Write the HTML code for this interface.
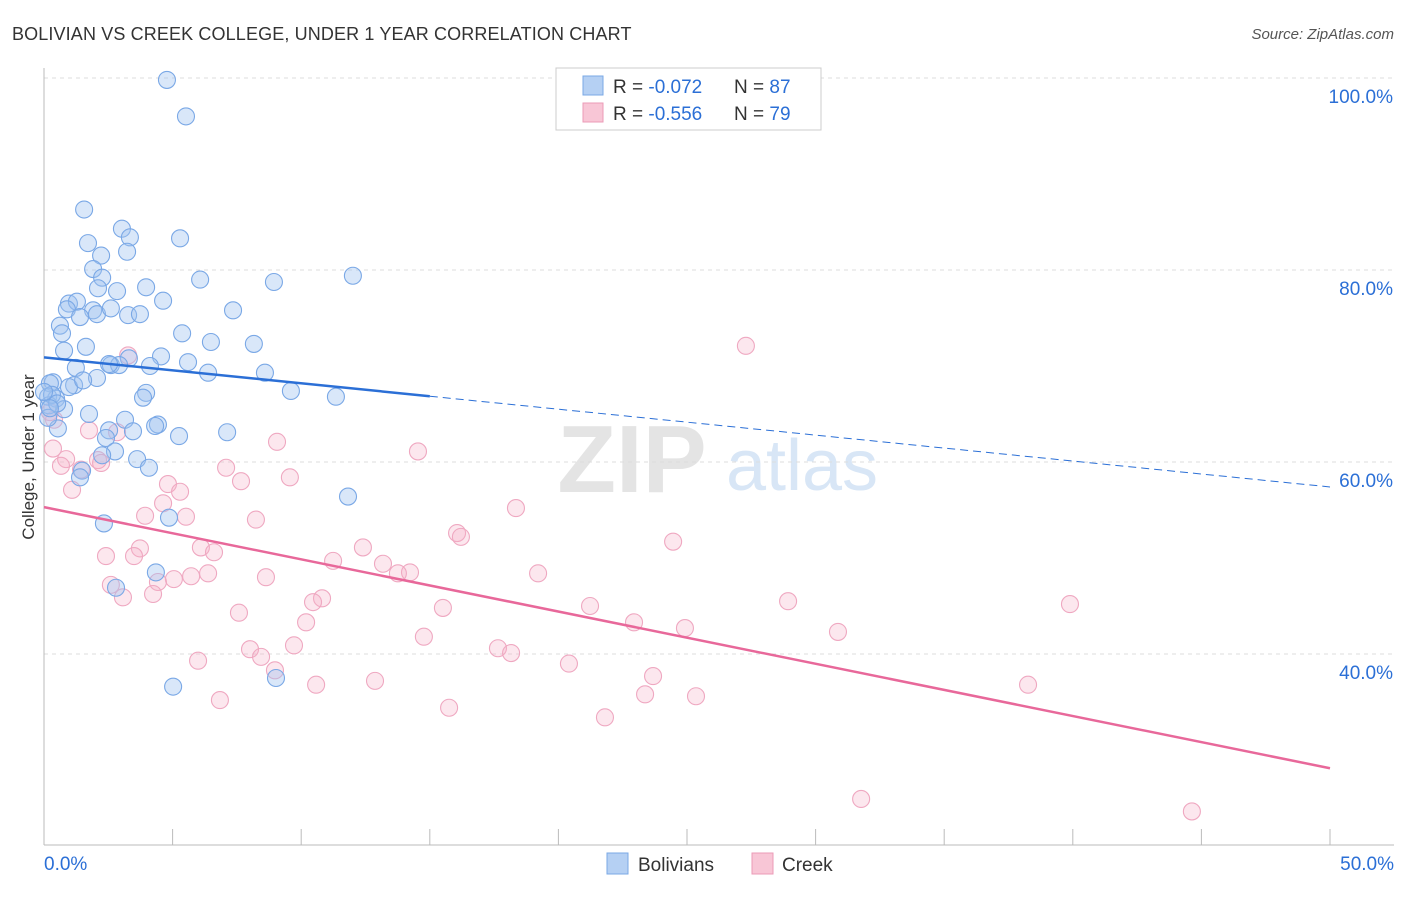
<!DOCTYPE html>
<html><head><meta charset="utf-8">
<style>
body{margin:0;background:#fff;font-family:"Liberation Sans",sans-serif;}
svg text{font-family:"Liberation Sans",sans-serif;}
</style></head>
<body>
<svg width="1406" height="892" viewBox="0 0 1406 892" xmlns="http://www.w3.org/2000/svg">
<text x="12" y="40" font-size="18" fill="#333" letter-spacing="0.13">BOLIVIAN VS CREEK COLLEGE, UNDER 1 YEAR CORRELATION CHART</text>
<text x="1394" y="39" font-size="15" fill="#555" font-style="italic" text-anchor="end">Source: ZipAtlas.com</text>
<g>
<text x="632" y="492" font-size="96" font-family="Liberation Serif" fill="#e4e4e4" text-anchor="middle" font-weight="bold">ZIP</text>
<text x="802" y="490" font-size="72" fill="#d8e6f6" text-anchor="middle">atlas</text>
</g>
<g id="grid"></g>
<g id="axes"></g>
<text transform="translate(34,457) rotate(-90)" font-size="17" fill="#333" text-anchor="middle">College, Under 1 year</text>
<g id="points"></g>
<g id="trends"></g>
<g>
<rect x="556" y="68" width="265" height="62" fill="#fff" stroke="#ccc"/>
<rect x="583" y="76" width="20" height="19" fill="#b5d0f3" stroke="#7aa8e6"/>
<rect x="583" y="103" width="20" height="19" fill="#f8c6d6" stroke="#eb9bb7"/>
<text x="613" y="93" font-size="19" fill="#333">R = <tspan fill="#2b6fd6">-0.072</tspan></text>
<text x="734" y="93" font-size="19" fill="#333">N = <tspan fill="#2b6fd6">87</tspan></text>
<text x="613" y="120" font-size="19" fill="#333">R = <tspan fill="#2b6fd6">-0.556</tspan></text>
<text x="734" y="120" font-size="19" fill="#333">N = <tspan fill="#2b6fd6">79</tspan></text>
</g>
<g>
<rect x="607" y="853" width="21" height="21" fill="#b5d0f3" stroke="#7aa8e6"/>
<text x="638" y="871" font-size="19" fill="#333">Bolivians</text>
<rect x="752" y="853" width="21" height="21" fill="#f8c6d6" stroke="#eb9bb7"/>
<text x="782" y="871" font-size="19" fill="#333">Creek</text>
</g>
</svg>
<script>
const blueX=[4.78,5.52,1.56,3.03,3.34,5.29,1.71,3.23,2.22,1.91,6.07,8.94,12.01,2.26,2.10,2.84,3.97,4.63,0.97,1.28,0.89,1.91,2.06,2.60,3.27,3.73,7.35,1.40,0.62,5.37,0.70,8.16,6.49,1.63,0.78,4.55,5.60,3.30,2.60,2.92,4.12,6.38,8.59,1.24,2.06,0.35,1.17,0.97,0.23,9.60,3.97,11.35,3.85,0.16,0.47,0.78,0.19,1.75,3.15,4.43,4.32,3.46,7.12,2.53,5.25,2.41,0.54,2.76,2.26,3.62,4.08,1.48,1.40,11.82,4.86,2.33,4.35,2.80,5.02,9.02,0.16,0.31,0.51,0.0,2.53,1.52,0.23];
const blueY=[99.8,96.0,86.3,84.3,83.4,83.3,82.8,81.9,81.5,80.1,79.0,78.75,79.4,79.2,78.1,77.8,78.2,76.8,76.5,76.7,75.9,75.8,75.4,76.0,75.3,75.4,75.8,75.1,74.2,73.4,73.4,72.3,72.5,72.0,71.6,71.0,70.4,70.8,70.1,70.1,70.0,69.3,69.3,69.8,68.75,68.3,68.0,67.8,68.2,67.4,67.2,66.8,66.7,66.8,66.6,65.5,65.9,65.0,64.4,63.9,63.75,63.2,63.1,63.3,62.7,62.5,63.5,61.1,60.7,60.3,59.4,59.1,58.4,56.4,54.2,53.6,48.5,46.9,36.6,37.5,64.6,67.0,66.1,67.3,70.2,68.5,65.6];
const pinkX=[27.29,3.27,0.39,9.06,1.75,2.84,14.54,0.86,2.10,2.22,0.66,1.44,7.08,9.56,7.66,1.09,4.82,5.29,4.63,18.35,3.93,5.52,8.24,16.06,16.21,24.46,3.73,6.10,6.61,12.40,2.41,3.50,11.24,13.18,14.23,13.76,19.21,8.63,5.72,5.05,6.38,4.43,2.60,3.07,4.24,10.81,10.46,21.23,28.93,39.89,15.51,7.58,10.19,22.94,24.92,30.87,14.77,9.72,17.65,18.16,8.01,8.44,5.99,20.41,8.98,23.68,12.87,10.58,38.26,23.37,25.35,6.84,15.75,21.81,31.77,44.63,0.35,0.23];
const pinkY=[72.1,71.1,64.4,62.1,63.3,63.1,61.1,60.3,60.2,59.9,59.6,59.2,59.4,58.4,58.0,57.1,57.7,56.9,55.7,55.2,54.4,54.3,54.0,52.6,52.2,51.7,51.0,51.1,50.6,51.1,50.2,50.2,49.7,49.4,48.5,48.4,48.4,48.0,48.1,47.8,48.4,47.5,47.2,45.9,46.25,45.8,45.4,45.0,45.5,45.2,44.8,44.3,43.3,43.3,42.7,42.3,41.8,40.9,40.6,40.1,40.5,39.7,39.3,39.0,38.3,37.7,37.2,36.8,36.8,35.8,35.6,35.2,34.4,33.4,24.9,23.6,61.4,65.2];
const yTicks=[100,80,60,40];
const yTickLabels=["100.0%","80.0%","60.0%","40.0%"];
const xTicks=[0,5,10,15,20,25,30,35,40,45,50];
const blueTrend=[70.9,-0.27];
const pinkTrend=[55.3,-0.544];

const NS="http://www.w3.org/2000/svg";
const xs=v=>44+v*25.72;
const ys=v=>654-(v-40)*9.6;
function mk(tag,attrs,parent){const e=document.createElementNS(NS,tag);for(const k in attrs)e.setAttribute(k,attrs[k]);parent.appendChild(e);return e;}
const grid=document.getElementById('grid'),axes=document.getElementById('axes'),pts=document.getElementById('points'),tr=document.getElementById('trends');
yTicks.forEach((t,i)=>{
  const l=mk('line',{x1:44,x2:1394,y1:ys(t),y2:ys(t),stroke:'#ddd','stroke-dasharray':'4,4'},grid);
  
  
  const tx=mk('text',{x:1393,y:ys(t)+25,'font-size':19,fill:'#2b6fd6','text-anchor':'end'},axes);
  tx.textContent=yTickLabels[i];
  
  
});
const ya=mk('line',{x1:44,x2:44,y1:68,y2:845,stroke:'#bbb'},axes);


const xa=mk('line',{x1:44,x2:1394,y1:845,y2:845,stroke:'#bbb'},axes);


xTicks.forEach(t=>{
  const l=mk('line',{x1:xs(t),x2:xs(t),y1:829,y2:845,stroke:'#bbb'},axes);
  
  
});
const x0=mk('text',{x:44,y:870,'font-size':19,fill:'#2b6fd6'},axes);x0.textContent='0.0%';


const x1=mk('text',{x:1394,y:870,'font-size':19,fill:'#2b6fd6','text-anchor':'end'},axes);x1.textContent='50.0%';


pinkX.forEach((x,i)=>{
  const c=mk('circle',{cx:xs(x),cy:ys(pinkY[i]),r:8.5,fill:'rgba(244,176,200,0.3)',stroke:'#efa8c1','stroke-width':1.1},pts);
  
  
});
blueX.forEach((x,i)=>{
  const c=mk('circle',{cx:xs(x),cy:ys(blueY[i]),r:8.5,fill:'rgba(160,196,240,0.4)',stroke:'#7aa8e6','stroke-width':1.1},pts);
  
  
});
const bl=mk('line',{x1:xs(0),y1:ys(blueTrend[0]),x2:xs(15),y2:ys(blueTrend[0]+blueTrend[1]*15),stroke:'#2b6fd6','stroke-width':2.5},tr);


const bd=mk('line',{x1:xs(15),y1:ys(blueTrend[0]+blueTrend[1]*15),x2:xs(50),y2:ys(blueTrend[0]+blueTrend[1]*50),stroke:'#2b6fd6','stroke-width':1,'stroke-dasharray':'8,5'},tr);


const pl=mk('line',{x1:xs(0),y1:ys(pinkTrend[0]),x2:xs(50),y2:ys(pinkTrend[0]+pinkTrend[1]*50),stroke:'#e8689a','stroke-width':2.5},tr);


</script>
</body></html>
